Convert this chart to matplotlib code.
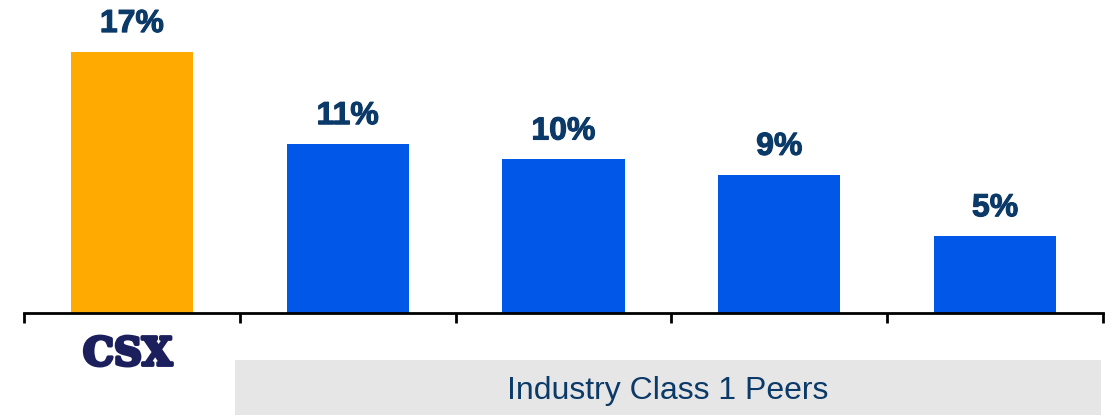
import matplotlib
matplotlib.use("Agg")
import matplotlib.pyplot as plt
from matplotlib.patches import Rectangle
import matplotlib.transforms as mtransforms
import matplotlib.patheffects as pe

# data
companies = ["CSX", "Peer A", "Peer B", "Peer C", "Peer D"]
values = [17, 11, 10, 9, 5]
labels = ["17%", "11%", "10%", "9%", "5%"]
bar_colors = ["#FFAA00", "#0057E8", "#0057E8", "#0057E8", "#0057E8"]
peer_group = "Industry Class 1 Peers"

navy = "#0B3A68"

fig = plt.figure(figsize=(11.12, 4.15), dpi=100)
ax = fig.add_axes([24 / 1112, 102 / 415, 1079 / 1112, 307 / 415])

x = list(range(len(values)))
bars = ax.bar(x, values, width=0.567, color=bar_colors, zorder=2)

for b, lab in zip(bars, labels):
    ax.annotate(lab, (b.get_x() + b.get_width() / 2, b.get_height()),
                xytext=(0, 14.4), textcoords="offset points",
                ha="center", va="baseline", fontsize=23, fontweight="bold",
                color=navy, family=["Liberation Sans Narrow", "Liberation Sans"],
                path_effects=[pe.withStroke(linewidth=0.8, foreground=navy)])

ax.set_xlim(-0.5, len(values) - 0.5)
ax.set_ylim(0, 20)

# axis line with ticks between categories
for s in ["top", "right", "left"]:
    ax.spines[s].set_visible(False)
ax.spines["bottom"].set_linewidth(2)
ax.spines["bottom"].set_color("black")
ax.set_yticks([])
ax.set_xticks([i - 0.5 for i in range(len(values) + 1)])
ax.set_xticklabels([])
ax.tick_params(axis="x", length=7, width=2, color="black", direction="out")

# CSX label under first bar
trans = mtransforms.blended_transform_factory(ax.transData, fig.transFigure)
ax.text(-0.02, 0.12, companies[0], transform=trans, ha="center", va="baseline",
        fontsize=28, fontweight="bold", color="#1B1F5C", family="DejaVu Serif",
        path_effects=[pe.withStroke(linewidth=2.5, foreground="#1B1F5C")])

# grey box for the peer group
box = Rectangle((0.48, 0), 4.49 - 0.48, 55 / 415, transform=trans,
                facecolor="#E6E6E6", edgecolor="none", clip_on=False)
ax.add_patch(box)
ax.text((0.48 + 4.49) / 2, 16 / 415, peer_group, transform=trans,
        ha="center", va="baseline", fontsize=23, color=navy,
        family="Liberation Sans")

fig.savefig("out.png", dpi=100)
